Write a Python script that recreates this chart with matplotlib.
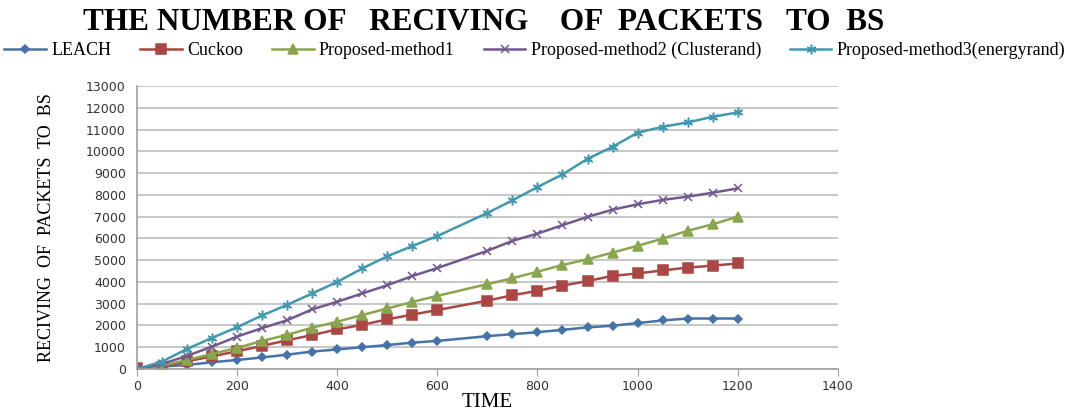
import matplotlib.pyplot as plt

time = [0, 50, 100, 150, 200, 250, 300, 350, 400, 450, 500, 550, 600,
        700, 750, 800, 850, 900, 950, 1000, 1050, 1100, 1150, 1200]

leach = [0, 110, 185, 310, 415, 530, 660, 800, 900, 1000, 1100, 1210, 1290,
         1510, 1600, 1690, 1800, 1910, 1990, 2110, 2230, 2320, 2320, 2320]
cuckoo = [50, 100, 350, 580, 815, 1060, 1320, 1560, 1820, 2030, 2280, 2500, 2710,
          3140, 3390, 3590, 3830, 4040, 4280, 4390, 4530, 4660, 4750, 4850]
method1 = [0, 150, 415, 690, 970, 1290, 1570, 1900, 2170, 2480, 2780, 3080, 3360,
           3900, 4170, 4470, 4780, 5040, 5350, 5660, 5990, 6350, 6650, 7000]
method2 = [0, 230, 600, 1030, 1490, 1880, 2240, 2740, 3090, 3470, 3850, 4270, 4640,
           5430, 5890, 6220, 6610, 6990, 7320, 7570, 7770, 7920, 8100, 8300]
method3 = [0, 340, 920, 1430, 1920, 2460, 2950, 3470, 4000, 4620, 5180, 5650, 6110,
           7170, 7750, 8360, 8940, 9660, 10210, 10860, 11130, 11330, 11590, 11790]

labels = ['LEACH', 'Cuckoo', 'Proposed-method1',
          'Proposed-method2 (Clusterand)', 'Proposed-method3(energyrand)']
colors = ['#4572A7', '#AA4643', '#89A54E', '#71588F', '#4198AF']
markers = ['D', 's', '^', 'x', (6, 2, 0)]
msizes = [4.5, 6.5, 6.5, 6, 7]

fig = plt.figure(figsize=(10.7, 4.12), dpi=100)
ax = fig.add_axes([0.128, 0.1044, 0.655, 0.6866])

series = [leach, cuckoo, method1, method2, method3]
for ys, lab, c, m, ms in zip(series, labels, colors, markers, msizes):
    ax.plot(time, ys, color=c, marker=m, markersize=ms, lw=1.8,
            markeredgewidth=1.1, label=lab)

ax.set_xlim(0, 1400)
ax.set_ylim(0, 13000)
ax.set_xticks(range(0, 1401, 200))
ax.set_yticks(range(0, 13001, 1000))
ax.grid(axis='y', color='#BDBDBD', lw=1.2)
ax.set_axisbelow(True)
for s in ['top', 'right']:
    ax.spines[s].set_visible(False)
for s in ['left', 'bottom']:
    ax.spines[s].set_color('#A0A0A0')
    ax.spines[s].set_linewidth(1.2)
ax.tick_params(axis='y', length=0, labelsize=9, labelcolor='#333333', pad=8)
ax.tick_params(axis='x', length=5, color='#A0A0A0', labelsize=9,
               labelcolor='#333333', pad=3)

ax.set_xlabel('TIME', family='Liberation Serif', fontsize=15, labelpad=0)
ax.set_ylabel('RECIVING  OF  PACKETS  TO  BS', family='Liberation Serif',
              fontsize=13, labelpad=22)

fig.text(0.452, 0.945, 'THE NUMBER OF   RECIVING    OF  PACKETS   TO  BS',
         ha='center', va='center', family='Liberation Serif',
         fontweight='bold', fontsize=22.5)

fig.legend(loc='center', bbox_to_anchor=(0.500, 0.877), ncol=5, frameon=False,
           prop={'family': 'Liberation Serif', 'size': 13},
           handlelength=2.3, columnspacing=1.6, handletextpad=0.3)

fig.savefig('out.png', dpi=100)
